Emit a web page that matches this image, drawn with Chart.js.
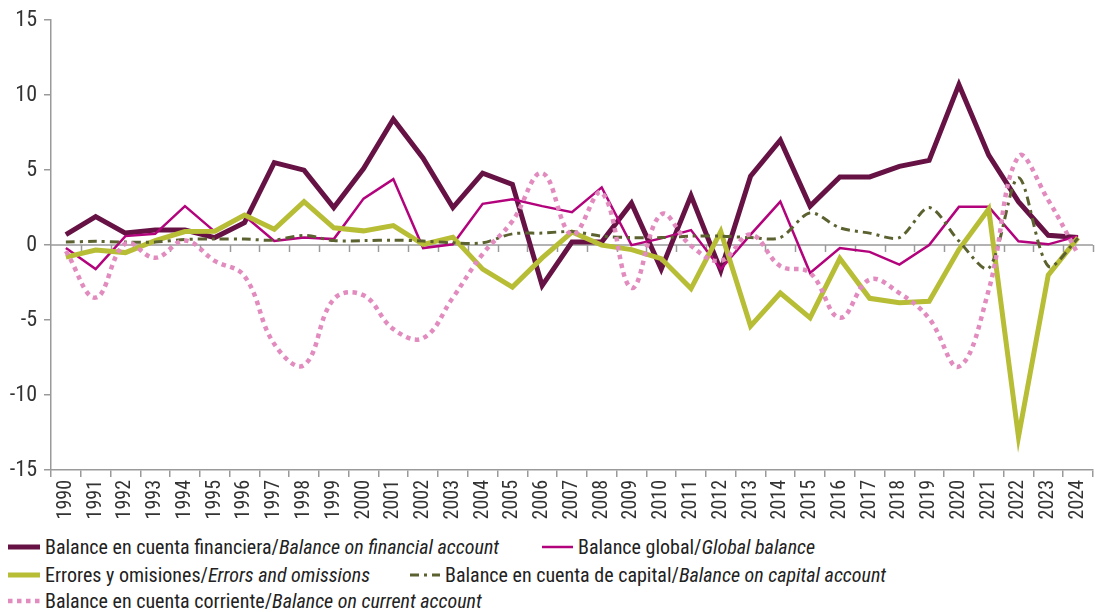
<!DOCTYPE html>
<html>
<head>
<meta charset="utf-8">
<script src="https://cdn.jsdelivr.net/npm/chart.js@4.4.1/dist/chart.umd.min.js"></script>
<style>
  html, body { margin: 0; padding: 0; background: #fff; overflow: hidden; }
  #wrap { position: relative; width: 1105px; height: 530px; }
  #legend { position: absolute; left: 0; top: 530px; width: 1095px; height: 82px;
    font-family: "Roboto Condensed", "Liberation Sans Narrow", "DejaVu Sans Condensed", sans-serif;
    font-size: 20px; color: #222; }
  .item { position: absolute; display: flex; align-items: center; white-space: nowrap; height: 26px; }
  .item svg { margin-right: 5px; }
</style>
</head>
<body>
<div id="wrap"><canvas id="chart"></canvas></div>
<div id="legend"></div>
<script>
const years = [];
for (let y = 1990; y <= 2024; y++) years.push(String(y));

const financial = [0.7, 1.9, 0.8, 1.0, 1.0, 0.5, 1.5, 5.5, 5.0, 2.5,
  5.1, 8.4, 5.8, 2.5, 4.8, 4.05, -2.7, 0.2, 0.2, 2.8,
  -1.6, 3.3, -1.7, 4.6, 7.0, 2.6, 4.55, 4.55, 5.25, 5.65,
  10.7, 6.0, 2.9, 0.65, 0.5];

const globalBal = [-0.2, -1.6, 0.6, 0.75, 2.6, 0.9, 1.95, 0.27, 0.5, 0.4,
  3.1, 4.4, -0.2, 0.05, 2.75, 3.05, 2.6, 2.2, 3.85, 0.0,
  0.45, 1.0, -1.6, 0.7, 2.9, -1.85, -0.2, -0.45, -1.3, 0.0,
  2.55, 2.55, 0.25, 0.05, 0.6];

const errors = [-0.8, -0.33, -0.5, 0.3, 0.9, 0.93, 2.0, 1.05, 2.9, 1.15,
  0.95, 1.3, 0.05, 0.53, -1.6, -2.8, -0.85, 0.87, 0.0, -0.3,
  -0.9, -2.9, 0.9, -5.4, -3.2, -4.85, -0.9, -3.55, -3.85, -3.75,
  -0.3, 2.4, -12.8, -2.0, 0.5];

const capital = [0.2, 0.25, 0.2, 0.2, 0.38, 0.4, 0.4, 0.33, 0.65, 0.3,
  0.3, 0.33, 0.27, 0.15, 0.15, 0.75, 0.8, 0.9, 0.6, 0.5,
  0.5, 0.6, 0.6, 0.5, 0.5, 2.15, 1.15, 0.8, 0.5, 2.5,
  0.27, -1.55, 4.5, -1.4, 0.45];

const current = [-0.4, -3.5, 0.1, -0.85, 0.3, -1.05, -2.07, -6.6, -8.0, -3.6,
  -3.35, -5.6, -6.2, -3.5, -0.6, 1.6, 4.8, 0.7, 3.5, -2.85,
  2.05, -0.05, -1.05, 0.7, -1.4, -1.85, -4.85, -2.3, -3.2, -4.9,
  -8.1, -3.0, 5.9, 3.0, -0.6];

const yTicks = [-15, -10, -5, 0, 5, 10, 15];

const labelsEs = ['Balance en cuenta financiera', 'Balance global', 'Errores y omisiones',
  'Balance en cuenta de capital', 'Balance en cuenta corriente'];
const labelsEn = ['Balance on financial account', 'Global balance', 'Errors and omissions',
  'Balance on capital account', 'Balance on current account'];

const FONT = '"Roboto Condensed", "Liberation Sans Narrow", "DejaVu Sans Condensed", sans-serif';
const AXIS = '#9a9a9a';

const styles = [
  { color: '#661245', width: 5, dash: [], tension: 0 },
  { color: '#b3037c', width: 2.5, dash: [], tension: 0 },
  { color: '#b7bd35', width: 5, dash: [], tension: 0 },
  { color: '#5c6130', width: 3, dash: [9, 5, 3, 5], tension: 0.3 },
  { color: '#e18bbf', width: 4.5, dash: [4.5, 4.5], tension: 0.4 }
];
const series = [financial, globalBal, errors, capital, current];

// gray line at zero with small ticks at the category boundaries
const zeroLine = {
  id: 'zeroLine',
  beforeDatasetsDraw(chart) {
    const { ctx, chartArea, scales } = chart;
    const y0 = scales.y.getPixelForValue(0);
    const n = years.length;
    const step = (chartArea.right - chartArea.left) / n;
    ctx.save();
    ctx.strokeStyle = AXIS;
    ctx.lineWidth = 1.5;
    ctx.beginPath();
    ctx.moveTo(chartArea.left, y0);
    ctx.lineTo(chartArea.right, y0);
    for (let i = 1; i <= n; i++) {
      const x = Math.round(chartArea.left + i * step) + 0.5;
      ctx.moveTo(x, y0);
      ctx.lineTo(x, y0 + 7);
    }
    ctx.stroke();
    ctx.restore();
  }
};

new Chart(document.getElementById('chart'), {
  type: 'line',
  data: {
    labels: years,
    datasets: series.map((d, i) => ({
      label: labelsEs[i] + '/' + labelsEn[i],
      data: d,
      borderColor: styles[i].color,
      backgroundColor: styles[i].color,
      borderWidth: styles[i].width,
      borderDash: styles[i].dash,
      borderCapStyle: 'butt',
      borderJoinStyle: 'miter',
      tension: styles[i].tension,
      pointRadius: 0,
      fill: false
    })).reverse()
  },
  options: {
    responsive: true,
    maintainAspectRatio: false,
    animation: false,
    layout: { padding: { top: 20, left: 0, right: 0, bottom: 0 } },
    plugins: { legend: { display: false }, tooltip: { enabled: false } },
    scales: {
      x: {
        type: 'category',
        offset: true,
        border: { color: AXIS, width: 1.5 },
        grid: { display: true, drawOnChartArea: false, drawTicks: true, tickLength: 7, color: AXIS, lineWidth: 1.5, offset: true },
        ticks: { maxRotation: 90, minRotation: 90, autoSkip: false, color: '#333', padding: 3,
          font: { family: FONT, size: 20 } },
        afterFit(scale) { scale.height = 60; }
      },
      y: {
        min: -15, max: 15,
        afterBuildTicks(scale) { scale.ticks = yTicks.map(v => ({ value: v })); },
        border: { color: AXIS, width: 1.5 },
        grid: { display: true, drawOnChartArea: false, drawTicks: true, tickLength: 7, color: AXIS, lineWidth: 1.5 },
        ticks: { color: '#333', padding: 7, font: { family: FONT, size: 22 } },
        afterFit(scale) { scale.width = 51; }
      }
    }
  },
  plugins: [zeroLine]
});

// legend below the chart, two-language labels
const legendPos = [
  { left: 8, top: 534, sw: 32 },
  { left: 542, top: 534, sw: 31 },
  { left: 8, top: 562, sw: 32 },
  { left: 410, top: 562, sw: 30 },
  { left: 8, top: 588, sw: 32 }
];
const legend = document.getElementById('legend');
legendPos.forEach((p, i) => {
  const s = styles[i];
  const item = document.createElement('div');
  item.className = 'item';
  item.style.left = p.left + 'px';
  item.style.top = (p.top - 530) + 'px';
  const dash = s.dash.length ? ' stroke-dasharray="' + s.dash.join(' ') + '"' : '';
  item.innerHTML = '<svg width="' + p.sw + '" height="10"><line x1="0" y1="5" x2="' + p.sw +
    '" y2="5" stroke="' + s.color + '" stroke-width="' + s.width + '"' + dash + '/></svg>' +
    '<span>' + labelsEs[i] + '/<i>' + labelsEn[i] + '</i></span>';
  legend.appendChild(item);
});
</script>
</body>
</html>
